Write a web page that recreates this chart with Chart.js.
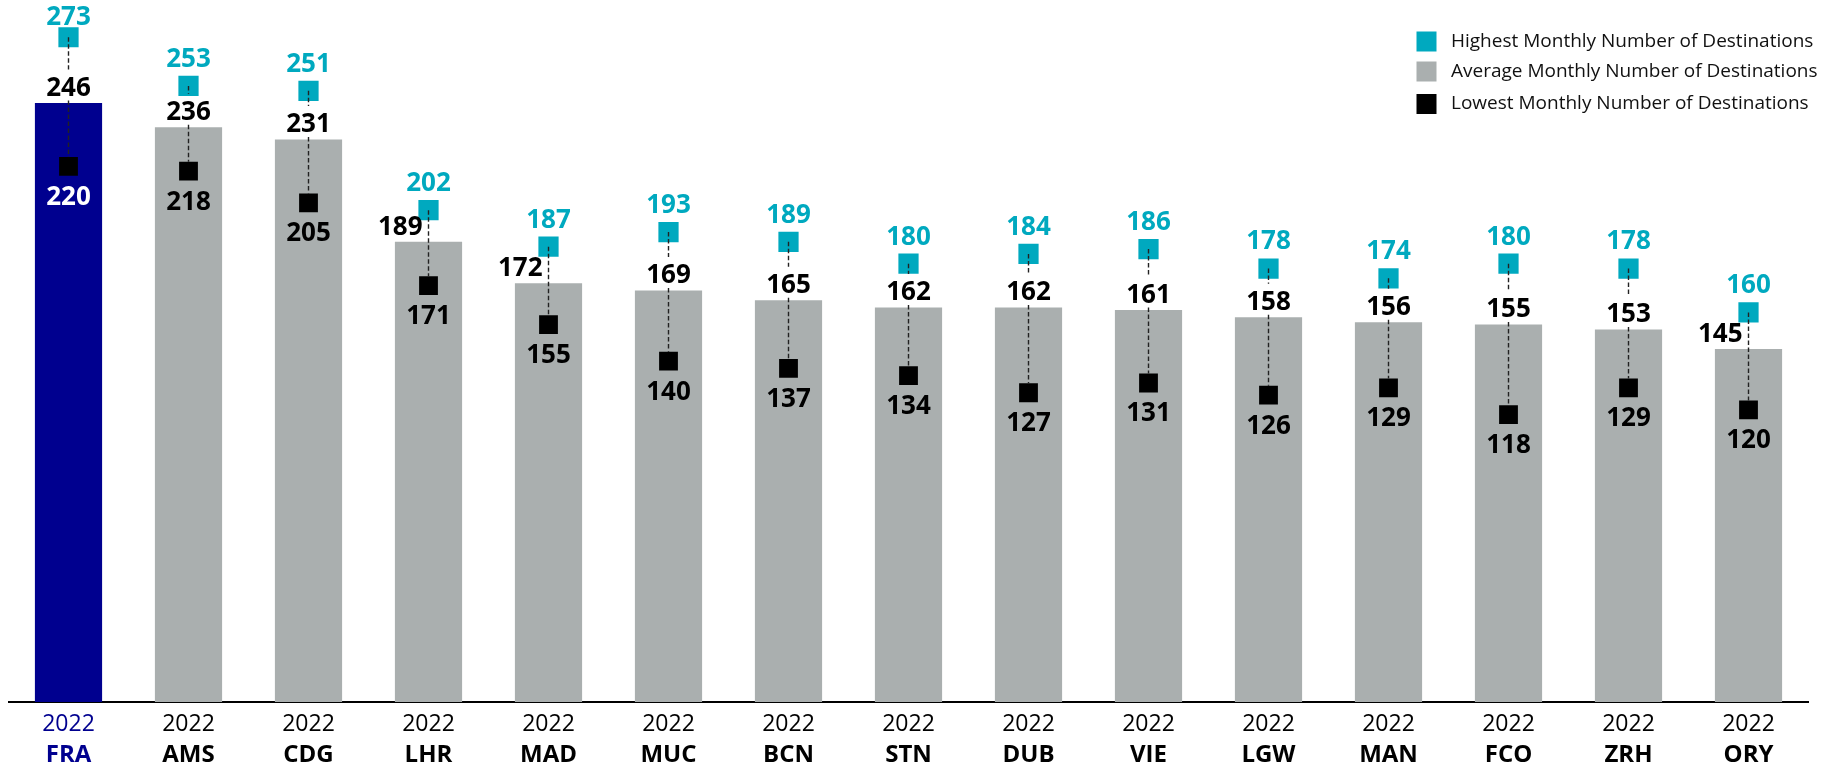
<!DOCTYPE html>
<html>
<head>
<meta charset="utf-8">
<script src="https://cdn.jsdelivr.net/npm/chart.js@4/dist/chart.umd.min.js"></script>
<style>
  html, body { margin: 0; padding: 0; background: #fff; }
  #wrap { width: 1833px; height: 767px; }
</style>
</head>
<body>
<div id="wrap"><canvas id="c" width="1833" height="767"></canvas></div>
<script>
const airports = ['FRA','AMS','CDG','LHR','MAD','MUC','BCN','STN','DUB','VIE','LGW','MAN','FCO','ZRH','ORY'];
const yearLabels = ['2022','2022','2022','2022','2022','2022','2022','2022','2022','2022','2022','2022','2022','2022','2022'];
const highest = [273,253,251,202,187,193,189,180,184,186,178,174,180,178,160];
const average = [246,236,231,189,172,169,165,162,162,161,158,156,155,153,145];
const lowest  = [220,218,205,171,155,140,137,134,127,131,126,129,118,129,120];
const legendLabels = ['Highest Monthly Number of Destinations','Average Monthly Number of Destinations','Lowest Monthly Number of Destinations'];

const CYAN = '#00A9BF';
const GRAY = '#AAAFAF';
const NAVY = '#00008F';
const FONT = '"Open Sans", "Noto Sans", sans-serif';

const barColors = airports.map((a, i) => i === 0 ? NAVY : GRAY);

const overlayPlugin = {
  id: 'overlay',
  afterDatasetsDraw(chart) {
    const ctx = chart.ctx;
    const x = chart.scales.x, y = chart.scales.y;
    ctx.save();
    ctx.strokeStyle = '#222';
    ctx.lineWidth = 1.4;
    ctx.setLineDash([4.5, 2.5]);
    airports.forEach((a, i) => {
      const cx = x.getPixelForValue(i);
      const yh = y.getPixelForValue(highest[i]);
      const yl = y.getPixelForValue(lowest[i]) - 9.4;
      const ya = y.getPixelForValue(average[i]);
      const shifted = (highest[i] - average[i]) <= 15;
      ctx.beginPath();
      if (shifted) {
        ctx.moveTo(cx, yh); ctx.lineTo(cx, yl);
      } else {
        const lc = ya - 14.5;
        ctx.moveTo(cx, yh); ctx.lineTo(cx, lc - 19);
        ctx.moveTo(cx, lc + 12); ctx.lineTo(cx, yl);
      }
      ctx.stroke();
    });
    ctx.setLineDash([]);

    ctx.font = 'bold 26px ' + FONT;
    ctx.textBaseline = 'middle';
    airports.forEach((a, i) => {
      const cx = x.getPixelForValue(i);
      const yh = y.getPixelForValue(highest[i]);
      const yl = y.getPixelForValue(lowest[i]);
      const ya = y.getPixelForValue(average[i]);
      ctx.fillStyle = CYAN;
      ctx.textAlign = 'center';
      ctx.fillText(String(highest[i]), cx, Math.max(yh - 26.5, 17.5));
      ctx.fillStyle = '#000';
      const shifted = (highest[i] - average[i]) <= 15;
      if (shifted) {
        ctx.textAlign = 'right';
        ctx.fillText(String(average[i]), cx - 6, ya - 14.5);
      } else {
        ctx.textAlign = 'center';
        ctx.fillText(String(average[i]), cx, ya - 14.5);
      }
      ctx.textAlign = 'center';
      ctx.fillStyle = i === 0 ? '#fff' : '#000';
      ctx.fillText(String(lowest[i]), cx, yl + 31);
    });
    ctx.restore();
  },
  afterDraw(chart) {
    const ctx = chart.ctx;
    const x = chart.scales.x;
    ctx.save();
    ctx.textAlign = 'center';
    ctx.textBaseline = 'middle';
    airports.forEach((a, i) => {
      const cx = x.getPixelForValue(i);
      ctx.fillStyle = i === 0 ? NAVY : '#000';
      ctx.font = '23px ' + FONT;
      ctx.fillText(yearLabels[i], cx, 724);
      ctx.font = 'bold 24px ' + FONT;
      ctx.fillText(a, cx, 755);
    });
    const colors = [CYAN, GRAY, '#000'];
    const rows = [41.5, 71.5, 104];
    ctx.textAlign = 'left';
    ctx.font = '19px ' + FONT;
    legendLabels.forEach((t, k) => {
      ctx.fillStyle = colors[k];
      ctx.fillRect(1416.5, rows[k] - 10, 20, 20);
      ctx.fillStyle = '#111';
      ctx.fillText(t, 1451, rows[k]);
    });
    ctx.restore();
  }
};

new Chart(document.getElementById('c'), {
  data: {
    labels: airports,
    datasets: [
      {
        type: 'bar',
        label: legendLabels[1],
        data: average,
        backgroundColor: barColors,
        borderWidth: 0,
        barPercentage: 0.56,
        categoryPercentage: 1.0,
        order: 3
      },
      {
        type: 'line',
        label: legendLabels[0],
        data: highest,
        showLine: false,
        pointStyle: 'rect',
        pointRadius: 14.3,
        pointBorderWidth: 0,
        pointBackgroundColor: CYAN,
        order: 1
      },
      {
        type: 'line',
        label: legendLabels[2],
        data: lowest,
        showLine: false,
        pointStyle: 'rect',
        pointRadius: 13.3,
        pointBorderWidth: 0,
        pointBackgroundColor: '#000',
        order: 2
      }
    ]
  },
  options: {
    responsive: false,
    devicePixelRatio: 1,
    animation: false,
    layout: { autoPadding: false, padding: { left: 8.5, right: 24.5, top: 0, bottom: 65 } },
    plugins: { legend: { display: false }, tooltip: { enabled: false } },
    scales: {
      x: {
        type: 'category',
        offset: true,
        grid: { display: false },
        ticks: { display: false },
        border: { display: true, color: '#000', width: 2 },
        afterFit: s => { s.height = 0; }
      },
      y: {
        display: false,
        min: 0,
        max: 288.3
      }
    }
  },
  plugins: [overlayPlugin]
});
</script>
</body>
</html>
